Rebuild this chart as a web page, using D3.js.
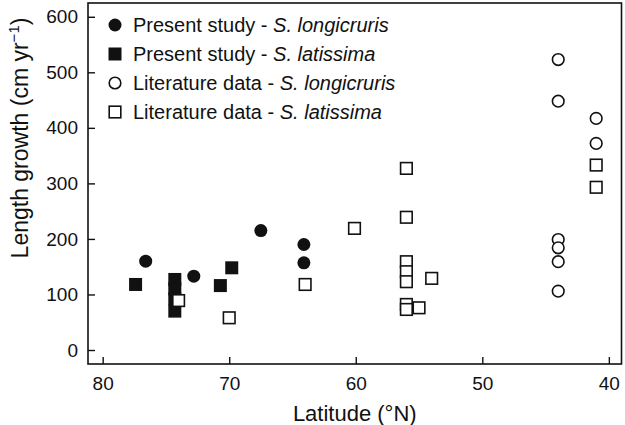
<!DOCTYPE html>
<html>
<head>
<meta charset="utf-8">
<script src="https://cdn.jsdelivr.net/npm/d3@7"></script>
<style>
  html, body { margin: 0; padding: 0; background: #fff; }
  svg { display: block; font-family: "Liberation Sans", Arial, Helvetica, sans-serif; }
</style>
</head>
<body>
<svg id="chart" width="625" height="425"></svg>
<script>
// Present study - S. longicruris (filled circles)
const presLongLat = [76.6, 72.8, 67.5, 64.1, 64.1];
const presLongVal = [160, 133, 215, 190, 157];
// Present study - S. latissima (filled squares)
const presLatLat = [77.4, 74.3, 74.3, 74.3, 74.3, 70.7, 69.8];
const presLatVal = [118, 127, 110, 92, 70, 116, 148];
// Literature data - S. longicruris (open circles)
const litLongLat = [44.0, 44.0, 44.0, 44.0, 44.0, 44.0, 41.0, 41.0];
const litLongVal = [523, 448, 199, 184, 159, 106, 417, 372];
// Literature data - S. latissima (open squares)
const litLatLat = [74.0, 70.0, 64.0, 60.1, 56.0, 56.0, 56.0, 56.0, 56.0, 56.0, 56.0, 55.0, 54.0, 41.0, 41.0];
const litLatVal = [89, 58, 118, 219, 327, 239, 159, 141, 123, 82, 73, 76, 129, 333, 293];

const yTicks = [0, 100, 200, 300, 400, 500, 600];
const xTicks = [80, 70, 60, 50, 40];

const legendLabels = [
  ["Present study - ", "S. longicruris"],
  ["Present study - ", "S. latissima"],
  ["Literature data - ", "S. longicruris"],
  ["Literature data - ", "S. latissima"]
];

const svg = d3.select("#chart");
const L = 88, R = 621.5, T = 3, B = 364;
const x = d3.scaleLinear().domain([81.16, 39.0]).range([L, R]);
const y = d3.scaleLinear().domain([-25.2, 624.8]).range([B, T]);

const ink = "#111";
const MS = 13; // marker size
const FONT = "Liberation Sans, Arial, sans-serif";

// axes with inward ticks
const yAxis = d3.axisLeft(y).tickValues(yTicks).tickSizeInner(-7).tickSizeOuter(0).tickPadding(10);
const gy = svg.append("g").attr("transform", `translate(${L},0)`).call(yAxis);
gy.select(".domain").remove();
gy.selectAll(".tick line").attr("stroke", ink).attr("stroke-width", 1.4);
gy.selectAll(".tick text").attr("fill", ink).attr("font-size", 19).attr("font-family", FONT);

const xAxis = d3.axisBottom(x).tickValues(xTicks).tickSizeInner(-7).tickSizeOuter(0).tickPadding(13);
const gx = svg.append("g").attr("transform", `translate(0,${B})`).call(xAxis);
gx.select(".domain").remove();
gx.selectAll(".tick line").attr("stroke", ink).attr("stroke-width", 1.4);
gx.selectAll(".tick text").attr("fill", ink).attr("font-size", 19).attr("font-family", FONT);

// frame
svg.append("rect").attr("x", L).attr("y", T).attr("width", R - L).attr("height", B - T)
  .attr("fill", "none").attr("stroke", ink).attr("stroke-width", 1.6);

// axis titles
svg.append("text").attr("x", (L + R) / 2).attr("y", 421)
  .attr("text-anchor", "middle").attr("font-size", 22).attr("fill", ink)
  .text("Latitude (°N)");

const yt = svg.append("text").attr("transform", `translate(28,${138}) rotate(-90)`)
  .attr("text-anchor", "middle").attr("font-size", 23).attr("fill", ink);
yt.append("tspan").text("Length growth (cm yr");
yt.append("tspan").attr("font-size", 15).attr("dy", -9).text("−1");
yt.append("tspan").attr("dy", 9).text(")");

// markers
const g = svg.append("g");
function circles(lats, vals, filled) {
  g.selectAll(null).data(d3.zip(lats, vals)).join("circle")
    .attr("cx", d => x(d[0])).attr("cy", d => y(d[1])).attr("r", filled ? MS / 2 : MS / 2 - 0.7)
    .attr("fill", filled ? ink : "#fff").attr("stroke", ink).attr("stroke-width", filled ? 0 : 1.6);
}
function squares(lats, vals, filled) {
  const s = filled ? MS : MS - 1.4;
  g.selectAll(null).data(d3.zip(lats, vals)).join("rect")
    .attr("x", d => x(d[0]) - s / 2).attr("y", d => y(d[1]) - s / 2)
    .attr("width", s).attr("height", s)
    .attr("fill", filled ? ink : "#fff").attr("stroke", ink).attr("stroke-width", filled ? 0 : 1.6);
}
squares(presLatLat, presLatVal, true);
circles(presLongLat, presLongVal, true);
squares(litLatLat, litLatVal, false);
circles(litLongLat, litLongVal, false);

// legend
const legY = [25, 54, 83, 112];
const lg = svg.append("g");
legendLabels.forEach((lab, i) => {
  const cy = legY[i], cx = 115;
  const filled = i < 2, isCircle = i % 2 === 0;
  if (isCircle) {
    lg.append("circle").attr("cx", cx).attr("cy", cy).attr("r", filled ? MS / 2 : MS / 2 - 0.7)
      .attr("fill", filled ? ink : "#fff").attr("stroke", ink).attr("stroke-width", filled ? 0 : 1.6);
  } else {
    const s = filled ? MS : MS - 1.4;
    lg.append("rect").attr("x", cx - s / 2).attr("y", cy - s / 2).attr("width", s).attr("height", s)
      .attr("fill", filled ? ink : "#fff").attr("stroke", ink).attr("stroke-width", filled ? 0 : 1.6);
  }
  const t = lg.append("text").attr("x", 133).attr("y", cy + 7).attr("font-size", 20).attr("fill", ink);
  t.append("tspan").text(lab[0]);
  t.append("tspan").attr("font-style", "italic").text(lab[1]);
});
</script>
</body>
</html>
